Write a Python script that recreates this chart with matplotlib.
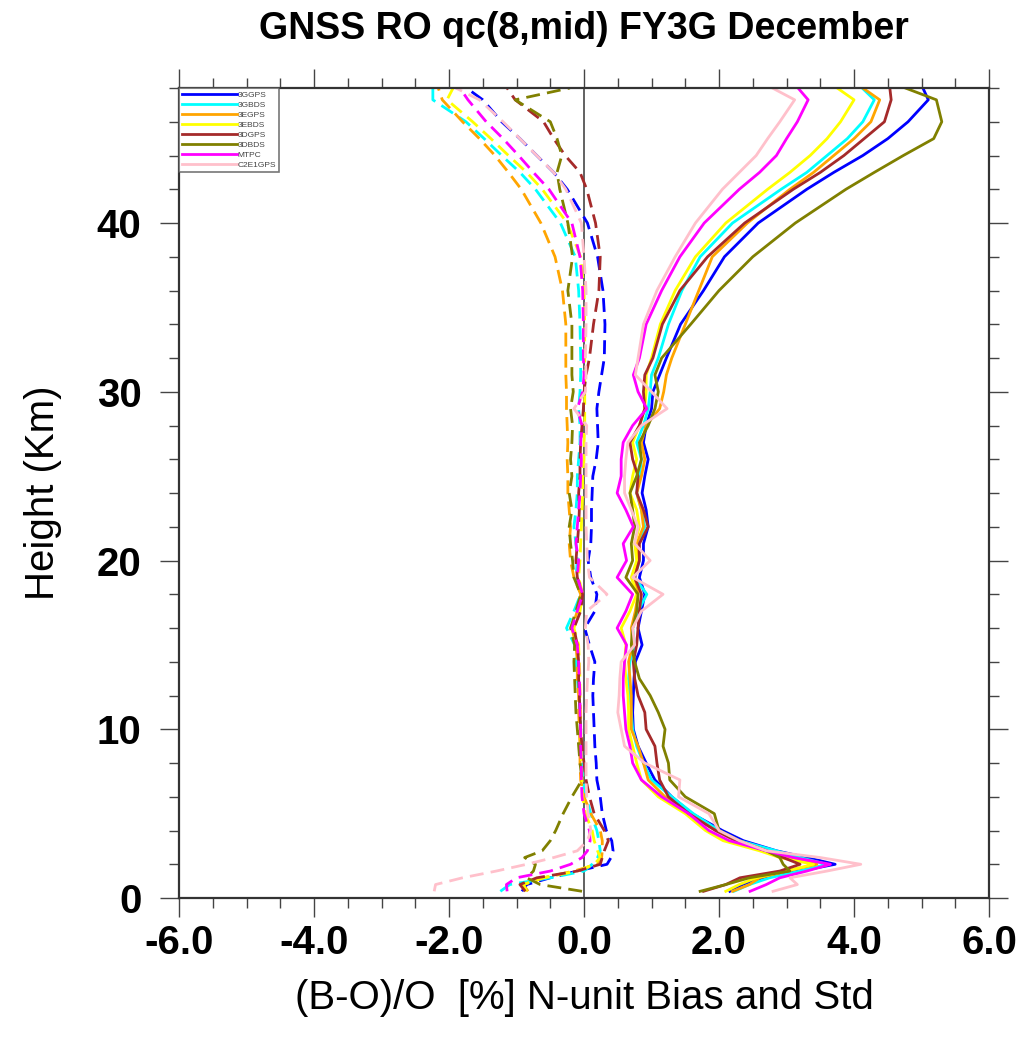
import matplotlib
matplotlib.use("Agg")
import matplotlib.pyplot as plt
from matplotlib.lines import Line2D
from matplotlib.ticker import MultipleLocator, FormatStrFormatter
import numpy as np

plt.rcParams['font.family'] = ['Liberation Sans', 'DejaVu Sans']

# height levels (km)
height = [0.4, 0.8, 1.2, 1.6, 2.0, 2.4, 2.8, 3.4, 4, 5, 6, 7, 8, 9, 10, 11, 12, 13, 14, 15,
          16, 17, 18, 19, 20, 21, 22, 23, 24, 25, 26, 27, 28, 29, 30, 31, 32, 34, 36, 38,
          40, 42, 43, 44, 45, 46, 47.3, 48]

names = ['3GGPS', '3GBDS', '3EGPS', '3EBDS', '3DGPS', '3DBDS', 'MTPC', 'C2E1GPS']
colors = ['#0000ff', '#00ffff', '#ffa500', '#ffff00', '#a52a2a', '#808000', '#ff00ff', '#ffc0cb']

# (B-O)/O bias [%]
bias_3ggps = [-0.92, -0.85, -0.5, -0.1, 0.34, 0.4, 0.43, 0.41, 0.33, 0.27, 0.24, 0.19, 0.18, 0.16,
              0.15, 0.14, 0.13, 0.14, 0.16, 0.08, 0.01, 0.16, 0.19, 0.1, 0.06, 0.1, 0.11, 0.11,
              0.12, 0.13, 0.18, 0.21, 0.2, 0.19, 0.22, 0.26, 0.3, 0.31, 0.28, 0.2, 0.05, -0.25,
              -0.45, -0.7, -0.95, -1.22, -1.5, -1.74]
bias_3gbds = [-1.24, -1.1, -0.5, 0.0, 0.12, 0.2, 0.24, 0.22, 0.19, 0.1, 0.03, -0.02, -0.03, -0.04,
              -0.05, -0.06, -0.07, -0.1, -0.12, -0.14, -0.26, -0.15, -0.05, -0.12, -0.1, -0.12,
              -0.15, -0.12, -0.1, -0.1, -0.08, -0.06, -0.06, -0.08, -0.06, -0.05, -0.05, -0.06,
              -0.08, -0.13, -0.35, -0.72, -0.95, -1.22, -1.48, -1.75, -2.24, -2.24]
bias_3egps = [-0.83, -0.9, -0.6, -0.15, 0.2, 0.26, 0.27, 0.27, 0.24, 0.1, 0.0, -0.05, -0.06, -0.06,
              -0.07, -0.08, -0.08, -0.1, -0.1, -0.12, -0.18, -0.1, -0.05, -0.15, -0.2, -0.22,
              -0.2, -0.22, -0.24, -0.24, -0.25, -0.24, -0.25, -0.26, -0.26, -0.27, -0.27, -0.27,
              -0.32, -0.43, -0.64, -0.93, -1.12, -1.32, -1.55, -1.8, -2.1, -2.16]
bias_3ebds = [-0.85, -0.9, -0.6, -0.1, 0.15, 0.24, 0.2, 0.15, 0.12, 0.02, -0.02, -0.03, -0.04,
              -0.04, -0.05, -0.05, -0.06, -0.06, -0.07, -0.08, -0.15, -0.06, -0.02, -0.08, -0.06,
              -0.05, -0.04, -0.03, -0.02, -0.02, 0.0, 0.0, 0.01, 0.01, 0.01, 0.01, 0.01, 0.01,
              0.0, -0.05, -0.25, -0.62, -0.85, -1.12, -1.38, -1.65, -2.03, -1.94]
bias_3dgps = [-0.87, -0.95, -0.7, -0.1, 0.24, 0.27, 0.3, 0.36, 0.3, 0.15, 0.08, 0.03, 0.0, -0.03,
              -0.05, -0.06, -0.07, -0.08, -0.08, -0.1, -0.15, -0.05, -0.02, -0.1, -0.12, -0.1,
              -0.08, -0.07, -0.08, -0.06, -0.06, -0.05, -0.03, -0.01, 0.0, 0.03, 0.08, 0.14,
              0.22, 0.24, 0.17, 0.04, -0.06, -0.28, -0.45, -0.6, -1.02, -1.14]
bias_3dbds = [-0.03, -0.65, -0.85, -0.75, -0.72, -0.88, -0.62, -0.5, -0.42, -0.31, -0.18, -0.03,
              -0.06, -0.08, -0.1, -0.12, -0.13, -0.14, -0.15, -0.14, -0.2, -0.12, -0.05, -0.15,
              -0.17, -0.2, -0.22, -0.18, -0.22, -0.18, -0.2, -0.18, -0.17, -0.2, -0.16, -0.18,
              -0.18, -0.18, -0.24, -0.17, -0.24, -0.36, -0.4, -0.33, -0.4, -0.5, -1.02, -0.21]
bias_mtpc = [-1.14, -1.15, -1.0, -0.5, -0.2, -0.03, 0.05, 0.09, 0.08, 0.0, -0.03, -0.04, -0.04,
             -0.05, -0.05, -0.06, -0.06, -0.07, -0.08, -0.1, -0.18, -0.1, -0.02, -0.1, -0.08,
             -0.12, -0.1, -0.08, -0.06, -0.05, -0.04, -0.05, -0.03, -0.1, -0.02, 0.0, -0.01,
             -0.01, -0.02, -0.06, -0.18, -0.52, -0.75, -0.97, -1.2, -1.45, -1.72, -1.84]
bias_c2e1gps = [-2.22, -2.2, -1.8, -1.3, -0.85, -0.45, -0.1, 0.05, 0.1, 0.06, 0.04, 0.03, 0.03,
                0.03, 0.03, 0.03, 0.04, 0.05, 0.07, 0.06, 0.02, 0.04, 0.34, 0.08, 0.05, 0.04,
                0.03, 0.03, 0.03, 0.03, 0.03, 0.03, 0.04, -0.15, 0.02, 0.03, 0.02, 0.03, 0.03,
                0.0, -0.04, -0.27, -0.45, -0.7, -0.95, -1.2, -1.55, -1.9]

# (B-O)/O std [%]
std_3ggps = [2.16, 2.35, 2.65, 3.2, 3.72, 3.3, 2.85, 2.36, 2.05, 1.6, 1.3, 1.05, 0.92, 0.8, 0.73,
             0.72, 0.73, 0.74, 0.76, 0.86, 0.8, 0.85, 0.9, 0.82, 0.88, 0.88, 0.95, 0.92, 0.86,
             0.9, 0.95, 0.88, 0.92, 1.0, 1.02, 1.12, 1.22, 1.43, 1.77, 2.08, 2.58, 3.3, 3.7,
             4.13, 4.5, 4.8, 5.1, 5.02]
std_3gbds = [2.22, 2.45, 2.75, 3.2, 3.6, 3.2, 2.85, 2.3, 2.0, 1.62, 1.3, 1.0, 0.88, 0.78, 0.72,
             0.7, 0.68, 0.66, 0.68, 0.75, 0.72, 0.8, 0.93, 0.75, 0.82, 0.8, 0.9, 0.85, 0.78,
             0.82, 0.85, 0.78, 0.88, 0.95, 0.98, 1.0, 1.1, 1.25, 1.45, 1.72, 2.2, 2.92, 3.3,
             3.6, 3.9, 4.13, 4.3, 4.12]
std_3egps = [2.2, 2.45, 2.6, 3.0, 3.45, 3.0, 2.7, 2.25, 1.95, 1.55, 1.2, 0.95, 0.88, 0.8, 0.7,
             0.7, 0.7, 0.68, 0.66, 0.72, 0.7, 0.76, 0.8, 0.75, 0.8, 0.78, 0.88, 0.85, 0.78,
             0.85, 0.9, 0.85, 0.92, 1.12, 1.18, 1.22, 1.3, 1.5, 1.7, 1.9, 2.42, 3.05, 3.4, 3.7,
             4.0, 4.25, 4.38, 4.13]
std_3ebds = [2.1, 2.3, 2.55, 3.0, 3.4, 2.9, 2.6, 2.06, 1.8, 1.5, 1.1, 0.85, 0.78, 0.72, 0.66,
             0.66, 0.65, 0.62, 0.6, 0.62, 0.55, 0.68, 0.78, 0.7, 0.78, 0.75, 0.82, 0.78, 0.68,
             0.72, 0.78, 0.72, 0.82, 0.9, 0.92, 0.92, 1.0, 1.13, 1.35, 1.65, 2.1, 2.72, 3.05,
             3.35, 3.6, 3.8, 4.0, 3.75]
std_3dgps = [1.77, 2.1, 2.31, 2.9, 3.2, 2.95, 2.7, 2.25, 1.95, 1.55, 1.25, 1.12, 1.08, 1.05, 0.92,
             0.9, 0.8, 0.75, 0.73, 0.78, 0.8, 0.82, 0.85, 0.75, 0.82, 0.82, 0.95, 0.88, 0.78,
             0.8, 0.72, 0.68, 0.82, 0.9, 0.88, 0.9, 1.02, 1.16, 1.42, 1.83, 2.38, 3.1, 3.5,
             3.85, 4.15, 4.45, 4.55, 4.53]
std_3dbds = [1.72, 2.1, 2.45, 3.05, 2.95, 2.9, 2.7, 2.3, 2.0, 1.93, 1.5, 1.27, 1.25, 1.17, 1.2,
             1.1, 0.98, 0.82, 0.75, 0.7, 0.72, 0.78, 0.8, 0.62, 0.72, 0.7, 0.75, 0.72, 0.68,
             0.78, 0.85, 0.82, 0.95, 1.05, 1.1, 1.05, 1.15, 1.58, 2.0, 2.5, 3.13, 3.88, 4.3,
             4.73, 5.18, 5.3, 5.22, 4.76]
std_mtpc = [2.46, 2.7, 2.9, 3.3, 3.65, 3.1, 2.7, 2.15, 1.85, 1.55, 1.15, 0.85, 0.72, 0.68, 0.62,
            0.6, 0.58, 0.58, 0.6, 0.63, 0.49, 0.62, 0.72, 0.49, 0.63, 0.58, 0.73, 0.62, 0.49,
            0.55, 0.55, 0.58, 0.72, 0.93, 0.8, 0.73, 0.82, 0.92, 1.15, 1.42, 1.78, 2.3, 2.6,
            2.85, 3.0, 3.16, 3.32, 3.17]
std_c2e1gps = [2.8, 3.16, 3.05, 3.6, 4.1, 3.5, 2.7, 2.3, 2.0, 1.85, 1.4, 1.42, 0.9, 0.6, 0.55,
               0.5, 0.52, 0.53, 0.55, 0.75, 0.72, 0.85, 1.17, 0.72, 0.98, 0.75, 0.8, 0.7, 0.6,
               0.6, 0.62, 0.65, 0.85, 1.23, 1.0, 0.76, 0.8, 0.88, 1.08, 1.35, 1.65, 2.05, 2.3,
               2.55, 2.72, 2.9, 3.12, 2.79]

biases = [bias_3ggps, bias_3gbds, bias_3egps, bias_3ebds, bias_3dgps, bias_3dbds, bias_mtpc, bias_c2e1gps]
stds = [std_3ggps, std_3gbds, std_3egps, std_3ebds, std_3dgps, std_3dbds, std_mtpc, std_c2e1gps]

fig = plt.figure(figsize=(10.35, 10.44), dpi=100)
ax = fig.add_axes([0.173, 0.1398, 0.7826, 0.7759])

ax.axvline(0.0, color='#555555', lw=1.3, zorder=1)

lw = 2.0
for b, s, c in zip(biases, stds, colors):
    ln, = ax.plot(b, height, color=c, lw=lw, zorder=2)
    ln.set_dashes([5, 2.6])
    ax.plot(s, height, color=c, lw=lw, zorder=2)

ax.set_xlim(-6, 6)
ax.set_ylim(0, 48)

ax.xaxis.set_major_locator(MultipleLocator(2))
ax.xaxis.set_minor_locator(MultipleLocator(0.5))
ax.yaxis.set_major_locator(MultipleLocator(10))
ax.yaxis.set_minor_locator(MultipleLocator(2))
ax.xaxis.set_major_formatter(FormatStrFormatter('%.1f'))

ax.tick_params(which='both', direction='out', top=True, right=True, width=1.0, color='#444444')
ax.tick_params(which='major', length=14, labelsize=29)
ax.tick_params(which='minor', length=7)
ax.tick_params(axis='x', which='major', pad=5)
ax.tick_params(axis='y', which='major', pad=13)
for lab in ax.get_xticklabels() + ax.get_yticklabels():
    lab.set_fontweight('bold')
for sp in ax.spines.values():
    sp.set_linewidth(1.6)
    sp.set_color('#333333')

ax.set_xlabel('(B-O)/O  [%] N-unit Bias and Std', fontsize=29, labelpad=12)
ax.set_ylabel('Height (Km)', fontsize=29, labelpad=25)
fig.text(0.5643, 0.972, 'GNSS RO qc(8,mid) FY3G December', fontsize=27, fontweight='bold',
         ha='center', va='center')

handles = [Line2D([0], [0], color=c, lw=2.0) for c in colors]
leg = ax.legend(handles, names, loc='upper left', fontsize=6, frameon=True, fancybox=False,
                borderaxespad=0.0, handlelength=6.5, handletextpad=0.1, labelspacing=0.25,
                borderpad=0.4)
leg.get_frame().set_edgecolor('#555555')
leg.get_frame().set_linewidth(1.2)
for t in leg.get_texts():
    t.set_color('#444444')

fig.savefig('out.png', dpi=100)
